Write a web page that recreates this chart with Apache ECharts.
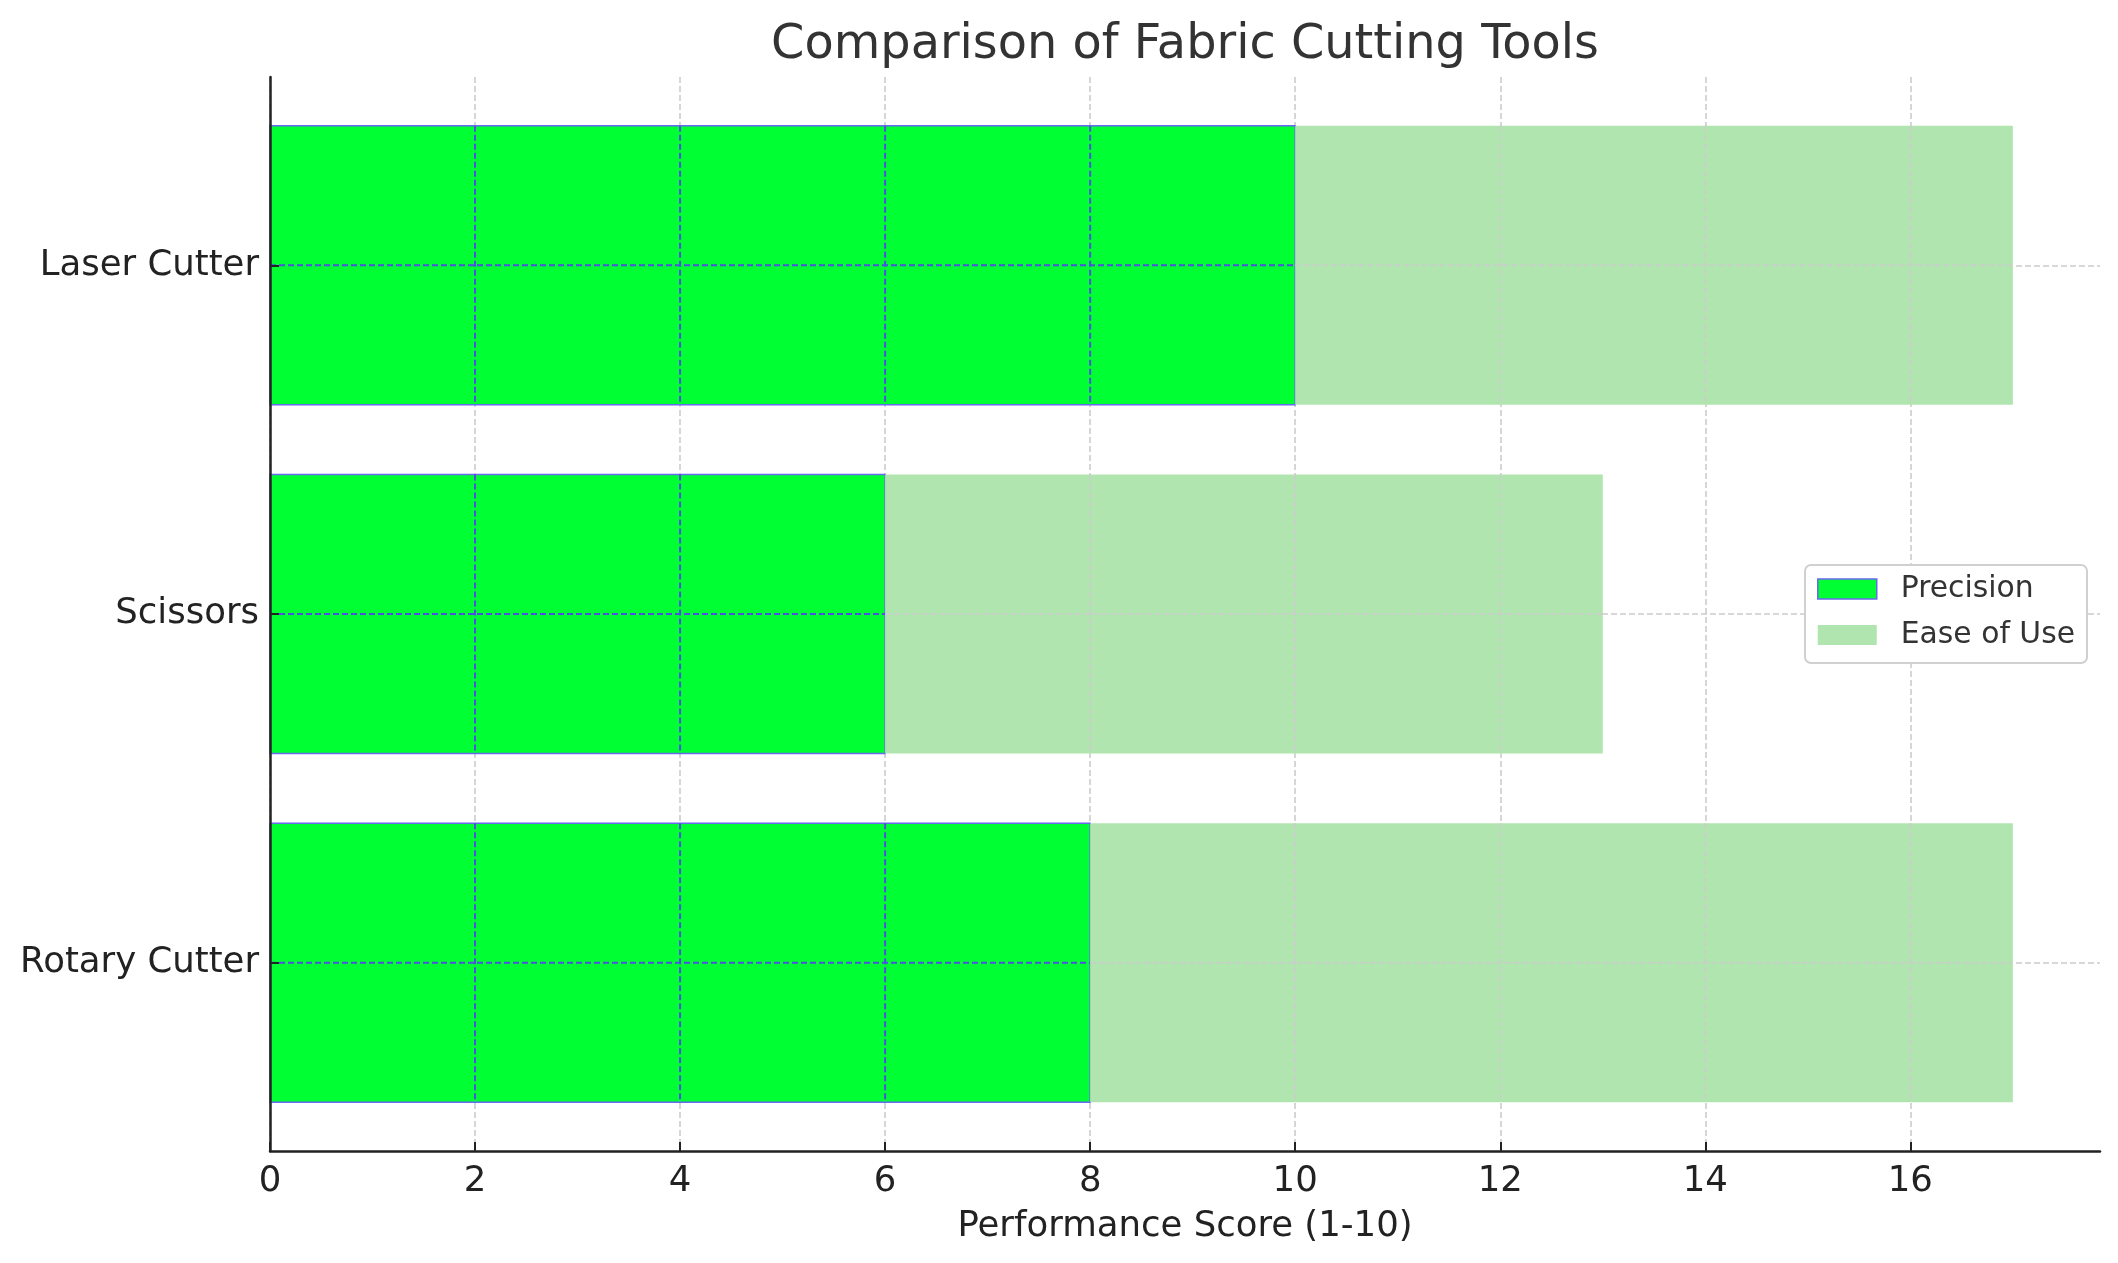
<!DOCTYPE html>
<html><head><meta charset="utf-8">
<script src="https://cdn.jsdelivr.net/npm/echarts@6/dist/echarts.min.js"></script>
<style>html,body{margin:0;padding:0;background:#fff}#c{width:2118px;height:1263px}</style>
</head><body><div id="c"></div>
<script>
// ---- data ----
const categories = ['Rotary Cutter', 'Scissors', 'Laser Cutter'];
const precision = [8, 6, 10];
const easeOfUse = [9, 7, 7];
const xTicks = [0, 2, 4, 6, 8, 10, 12, 14, 16];
const yTicks = [0, 1, 2];
const xMin = 0, xMax = 17.85;
const yMin = -0.54, yMax = 2.54;
const barHeight = 0.8;

// ---- style ----
const FONT = 'DejaVu Sans';
const PREC_COLOR = '#00ff33';
const EASE_COLOR = '#b0e5b0';
const PREC_EDGE = '#6868f0';
const PREC_GRID = '#4f4fe0';
const GRID_GRAY = '#cccccc';
const DASH = [6, 3];

function makeRender(fill, stroke, lineColor, lw) {
  return function (params, api) {
    const s = api.value(0), e = api.value(1), yi = api.value(2);
    const p0 = api.coord([s, yi]), p1 = api.coord([e, yi]);
    const h = api.size([0, barHeight])[1];
    const top = p0[1] - h / 2;
    const children = [{
      type: 'rect',
      shape: { x: p0[0], y: top, width: p1[0] - p0[0], height: h },
      style: { fill: fill, stroke: stroke || null, lineWidth: stroke ? 1.5 : 0 }
    }];
    xTicks.forEach(function (t) {
      if (t > s && t < e) {
        const x = api.coord([t, yi])[0];
        children.push({ type: 'line', shape: { x1: x, y1: top, x2: x, y2: top + h },
          style: { stroke: lineColor, lineWidth: lw, lineDash: DASH } });
      }
    });
    children.push({ type: 'line', shape: { x1: p0[0], y1: p0[1], x2: p1[0], y2: p1[1] },
      style: { stroke: lineColor, lineWidth: lw, lineDash: DASH } });
    return { type: 'group', children: children };
  };
}

const precData = categories.map((c, i) => [0, precision[i], i]);
const easeData = categories.map((c, i) => [precision[i], precision[i] + easeOfUse[i], i]);

const chart = echarts.init(document.getElementById('c'), null, { renderer: 'canvas' });
chart.setOption({
  animation: false,
  backgroundColor: '#ffffff',
  textStyle: { fontFamily: FONT },
  grid: { left: 270, right: 18, top: 77, bottom: 112, containLabel: false },
  graphic: [{
    type: 'text', x: 1185, y: 46, z: 100,
    style: { text: 'Comparison of Fabric Cutting Tools', font: '47.8px "DejaVu Sans"', fill: '#333333', align: 'center', verticalAlign: 'middle' }
  }],
  legend: {
    orient: 'vertical', left: 1805, top: 565,
    padding: [9, 12, 13, 12],
    backgroundColor: '#ffffff', borderColor: '#d0d0d0', borderWidth: 2, borderRadius: 6,
    itemWidth: 59, itemHeight: 20, itemGap: 16,
    textStyle: { fontFamily: FONT, fontSize: 29.8, color: '#333333', padding: [0, 0, 0, 19] },
    data: [
      { name: 'Precision', icon: 'rect', itemStyle: { color: PREC_COLOR, borderColor: PREC_EDGE, borderWidth: 1.5 } },
      { name: 'Ease of Use', icon: 'rect', itemStyle: { color: EASE_COLOR, borderWidth: 0 } }
    ]
  },
  xAxis: [{
    type: 'value', min: xMin, max: xMax, z: 0,
    axisLine: { show: false }, axisTick: { show: false, customValues: xTicks },
    axisLabel: { show: false },
    splitLine: { show: true, lineStyle: { color: GRID_GRAY, width: 1.6, type: DASH } }
  }, {
    type: 'value', min: xMin, max: xMax, z: 10, position: 'bottom', offset: 0,
    axisLine: { show: true, onZero: false, lineStyle: { color: '#222222', width: 2.5 } },
    axisTick: { show: true, inside: true, length: 9, customValues: xTicks, lineStyle: { color: '#222222', width: 2 } },
    axisLabel: { show: true, customValues: xTicks, margin: 13, fontSize: 35.5, color: '#222222', fontFamily: FONT },
    splitLine: { show: false },
    name: 'Performance Score (1-10)', nameLocation: 'middle', nameGap: 58,
    nameTextStyle: { fontSize: 35.5, color: '#222222', fontFamily: FONT }
  }],
  yAxis: [{
    type: 'value', min: yMin, max: yMax, z: 0,
    axisLine: { show: false }, axisTick: { show: false, customValues: yTicks },
    axisLabel: { show: false },
    splitLine: { show: true, lineStyle: { color: GRID_GRAY, width: 1.6, type: DASH } }
  }, {
    type: 'value', min: yMin, max: yMax, z: 10, position: 'left', offset: 0,
    axisLine: { show: true, onZero: false, lineStyle: { color: '#222222', width: 2.5 } },
    axisTick: { show: true, inside: true, length: 9, customValues: yTicks, lineStyle: { color: '#222222', width: 2 } },
    axisLabel: { show: true, customValues: yTicks, margin: 11, fontSize: 35.5, color: '#222222', fontFamily: FONT,
      formatter: function (v) { return categories[Math.round(v)]; } },
    splitLine: { show: false }
  }],
  series: [{
    name: 'Precision', type: 'custom', xAxisIndex: 0, yAxisIndex: 0, z: 2,
    itemStyle: { color: PREC_COLOR },
    renderItem: makeRender(PREC_COLOR, PREC_EDGE, PREC_GRID, 2),
    encode: { x: [0, 1], y: 2 },
    data: precData
  }, {
    name: 'Ease of Use', type: 'custom', xAxisIndex: 0, yAxisIndex: 0, z: 2,
    itemStyle: { color: EASE_COLOR },
    renderItem: makeRender(EASE_COLOR, null, GRID_GRAY, 1.6),
    encode: { x: [0, 1], y: 2 },
    data: easeData
  }]
});
</script>
</body></html>
